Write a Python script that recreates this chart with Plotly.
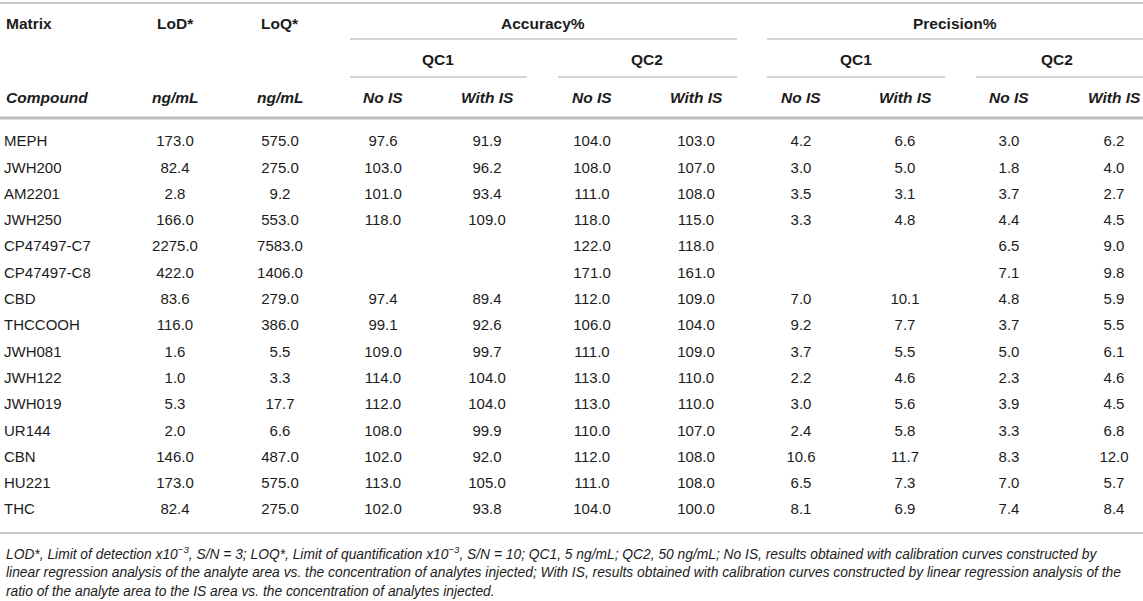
import plotly.graph_objects as go

# ---- table data ----
compounds = ["MEPH", "JWH200", "AM2201", "JWH250", "CP47497-C7", "CP47497-C8", "CBD",
             "THCCOOH", "JWH081", "JWH122", "JWH019", "UR144", "CBN", "HU221", "THC"]
lod = ["173.0", "82.4", "2.8", "166.0", "2275.0", "422.0", "83.6", "116.0",
       "1.6", "1.0", "5.3", "2.0", "146.0", "173.0", "82.4"]
loq = ["575.0", "275.0", "9.2", "553.0", "7583.0", "1406.0", "279.0", "386.0",
       "5.5", "3.3", "17.7", "6.6", "487.0", "575.0", "275.0"]
acc_qc1_no = ["97.6", "103.0", "101.0", "118.0", "", "", "97.4", "99.1",
              "109.0", "114.0", "112.0", "108.0", "102.0", "113.0", "102.0"]
acc_qc1_with = ["91.9", "96.2", "93.4", "109.0", "", "", "89.4", "92.6",
                "99.7", "104.0", "104.0", "99.9", "92.0", "105.0", "93.8"]
acc_qc2_no = ["104.0", "108.0", "111.0", "118.0", "122.0", "171.0", "112.0", "106.0",
              "111.0", "113.0", "113.0", "110.0", "112.0", "111.0", "104.0"]
acc_qc2_with = ["103.0", "107.0", "108.0", "115.0", "118.0", "161.0", "109.0", "104.0",
                "109.0", "110.0", "110.0", "107.0", "108.0", "108.0", "100.0"]
prec_qc1_no = ["4.2", "3.0", "3.5", "3.3", "", "", "7.0", "9.2",
               "3.7", "2.2", "3.0", "2.4", "10.6", "6.5", "8.1"]
prec_qc1_with = ["6.6", "5.0", "3.1", "4.8", "", "", "10.1", "7.7",
                 "5.5", "4.6", "5.6", "5.8", "11.7", "7.3", "6.9"]
prec_qc2_no = ["3.0", "1.8", "3.7", "4.4", "6.5", "7.1", "4.8", "3.7",
               "5.0", "2.3", "3.9", "3.3", "8.3", "7.0", "7.4"]
prec_qc2_with = ["6.2", "4.0", "2.7", "4.5", "9.0", "9.8", "5.9", "5.5",
                 "6.1", "4.6", "4.5", "6.8", "12.0", "5.7", "8.4"]

footnote = [
    "LOD*, Limit of detection x10<sup>−3</sup>, S/N = 3; LOQ*, Limit of quantification x10<sup>−3</sup>, "
    "S/N = 10; QC1, 5 ng/mL; QC2, 50 ng/mL; No IS, results obtained with calibration curves constructed by",
    "linear regression analysis of the analyte area vs. the concentration of analytes injected; With IS, "
    "results obtained with calibration curves constructed by linear regression analysis of the",
    "ratio of the analyte area to the IS area vs. the concentration of analytes injected.",
]

# ---- layout constants (page pixels) ----
W, H = 1143, 601
ROW0, ROW_H = 142.5, 26.3
TXT = "#1c1c1c"
RULE = "#c6c6c6"
FONT = "Liberation Sans, Arial, sans-serif"
SIZE = 15
HEAD_SIZE = 15.5

rows_y = [ROW0 + i * ROW_H for i in range(len(compounds))]
value_cols = [
    (175, lod), (280, loq),
    (383, acc_qc1_no), (487, acc_qc1_with), (592, acc_qc2_no), (696, acc_qc2_with),
    (801, prec_qc1_no), (905, prec_qc1_with), (1009, prec_qc2_no), (1114, prec_qc2_with),
]

fig = go.Figure()

fig.add_trace(go.Scatter(
    x=[4] * len(compounds), y=rows_y, text=compounds, mode="text",
    textposition="middle right", textfont=dict(family=FONT, size=SIZE, color=TXT),
    hoverinfo="skip", showlegend=False, cliponaxis=False,
))
for cx, vals in value_cols:
    ys = [y for y, v in zip(rows_y, vals) if v]
    txt = [v for v in vals if v]
    fig.add_trace(go.Scatter(
        x=[cx] * len(txt), y=ys, text=txt, mode="text",
        textposition="middle center", textfont=dict(family=FONT, size=SIZE, color=TXT),
        hoverinfo="skip", showlegend=False, cliponaxis=False,
    ))


def head(x, y, text, italic=False, anchor="center"):
    t = f"<b><i>{text}</i></b>" if italic else f"<b>{text}</b>"
    fig.add_annotation(x=x, y=y, text=t, showarrow=False, xanchor=anchor, yanchor="middle",
                       font=dict(family=FONT, size=HEAD_SIZE, color=TXT))


head(4, 23, "Matrix", anchor="left")
head(175, 23, "LoD*")
head(280, 23, "LoQ*")
head(543, 23, "Accuracy%")
head(955, 23, "Precision%")
head(438, 59, "QC1")
head(647, 59, "QC2")
head(856, 59, "QC1")
head(1057, 59, "QC2")
head(4, 97, "Compound", italic=True, anchor="left")
head(175, 97, "ng/mL", italic=True)
head(280, 97, "ng/mL", italic=True)
for i, (cx, _) in enumerate(value_cols[2:]):
    head(cx, 97, "No IS" if i % 2 == 0 else "With IS", italic=True)


def rule(x0, x1, y, w=1.5, color=RULE):
    fig.add_shape(type="line", x0=x0, x1=x1, y0=y, y1=y, xref="x", yref="y",
                  line=dict(color=color, width=w))


rule(0, W, 3, 2)
rule(350, 737, 39)
rule(767, W, 39)
for x0, x1 in ((350, 527), (558, 737), (767, 945), (976, W)):
    rule(x0, x1, 77)
rule(0, W, 118, 3, "#bdbdbd")
rule(0, W, 533, 2)

for i, line in enumerate(footnote):
    fig.add_annotation(x=4, y=553 + i * 19, text=f"<i>{line}</i>", showarrow=False,
                       xanchor="left", yanchor="middle",
                       font=dict(family=FONT, size=13.8, color=TXT))

fig.update_layout(
    width=W, height=H, margin=dict(l=0, r=0, t=0, b=0),
    paper_bgcolor="white", plot_bgcolor="white",
    xaxis=dict(range=[0, W], visible=False, fixedrange=True),
    yaxis=dict(range=[H, 0], visible=False, fixedrange=True),
)

# drop the browser's default 8px body margin so the figure fills the window
fig.write_html("out.html", config={"displayModeBar": False},
               post_script="document.body.style.margin = '0';")
